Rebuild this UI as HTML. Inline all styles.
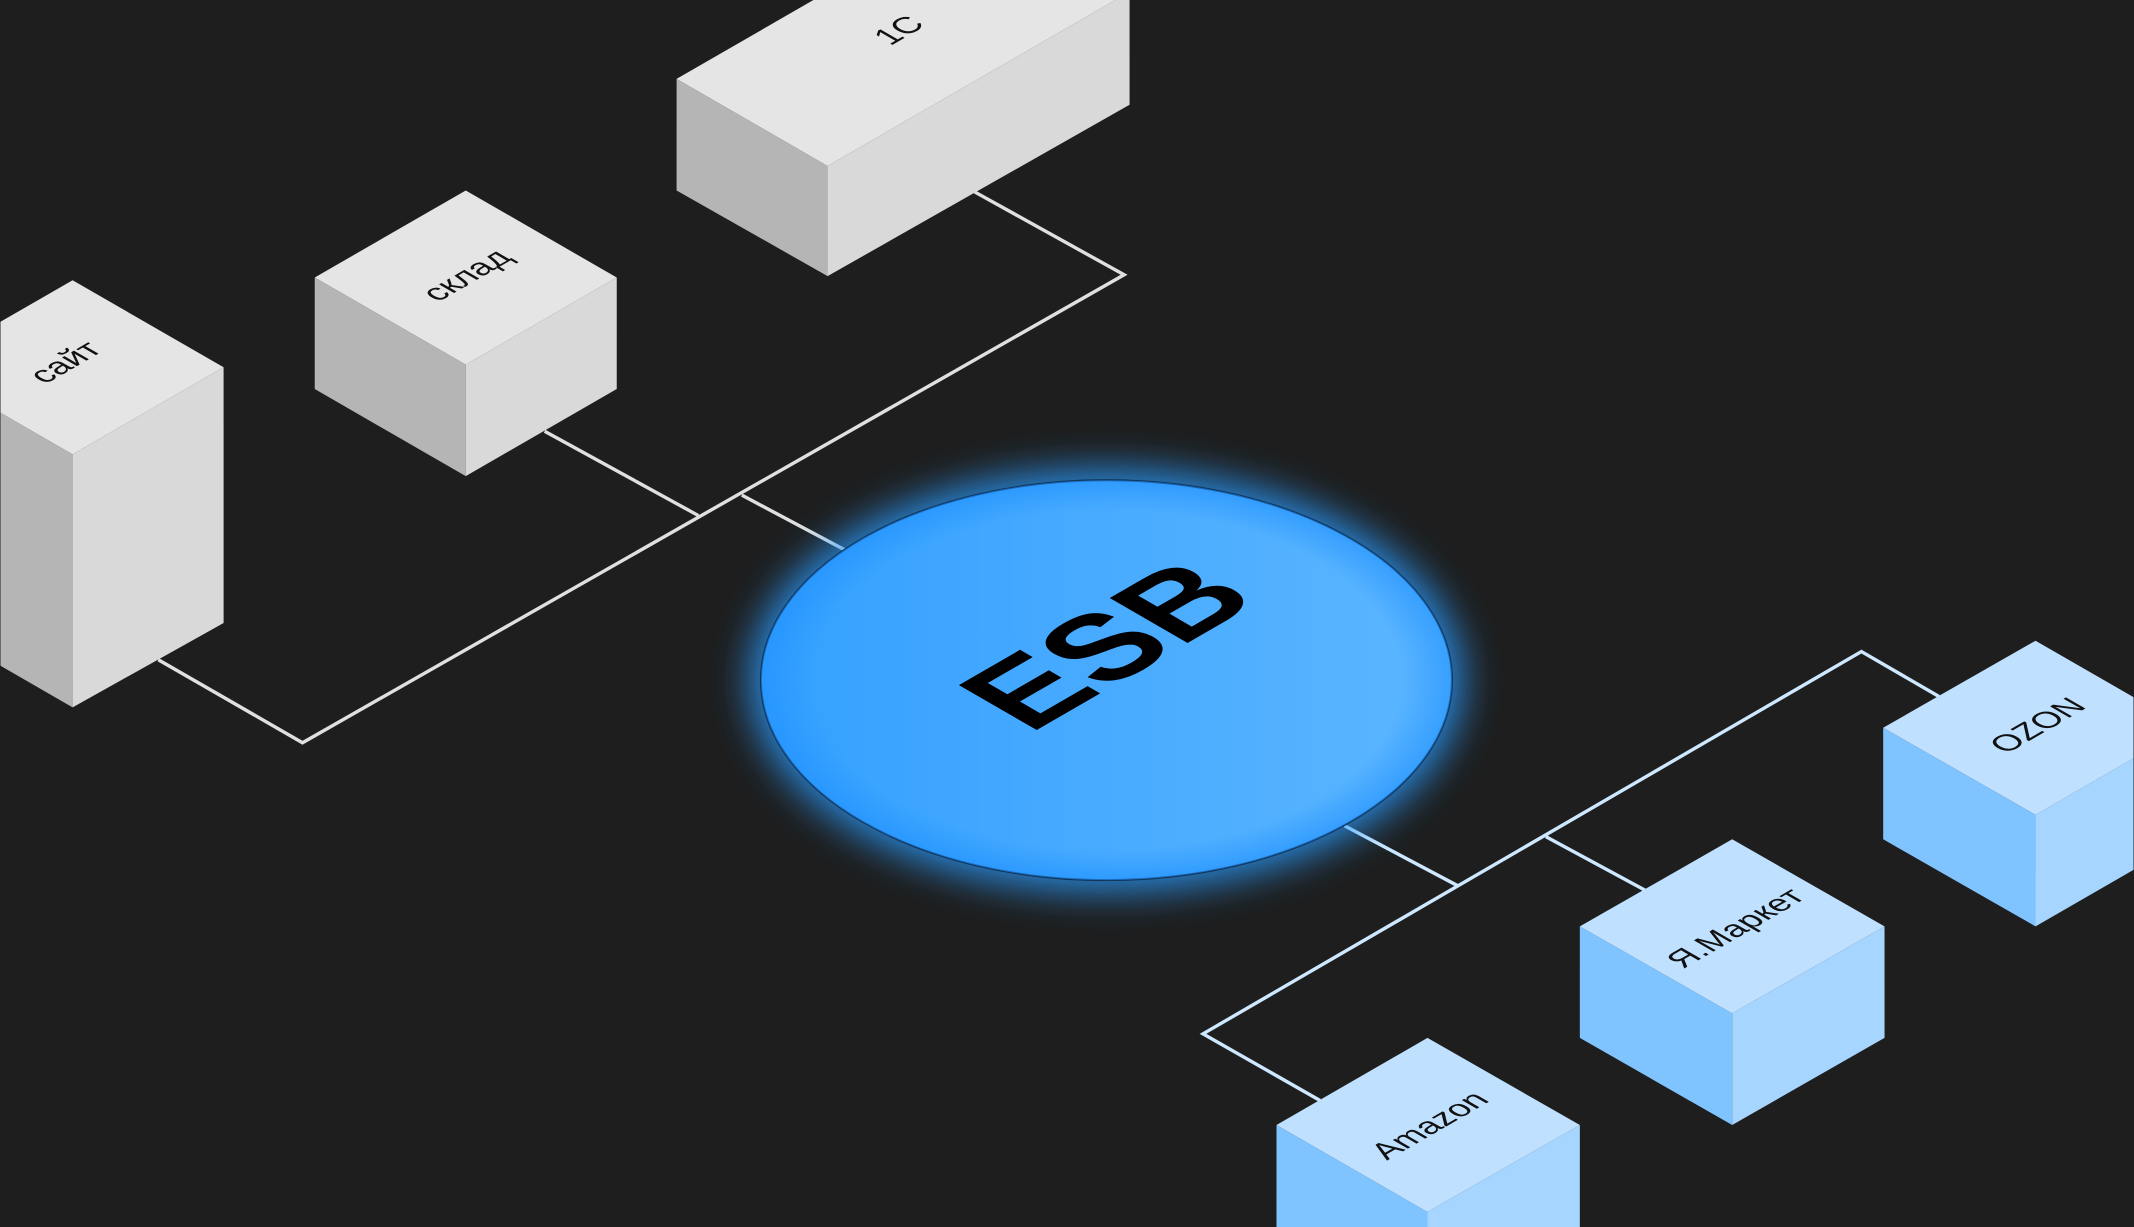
<!DOCTYPE html>
<html><head><meta charset="utf-8"><style>
html,body{margin:0;padding:0;background:#1e1e1e;width:2134px;height:1227px;overflow:hidden}
svg{display:block;overflow:hidden}
text{font-family:"Liberation Sans","DejaVu Sans",sans-serif}
</style></head><body>
<svg width="2134" height="1227" viewBox="0 0 1568 902" xmlns="http://www.w3.org/2000/svg">
<defs>
<linearGradient id="g" x1="0" y1="0" x2="1" y2="0">
<stop offset="0" stop-color="#34a0ff"/><stop offset="1" stop-color="#5cb6ff"/>
</linearGradient>
<radialGradient id="inner" cx="0.5" cy="0.5" r="0.5">
<stop offset="0.85" stop-color="#1e90ff" stop-opacity="0"/><stop offset="1" stop-color="#1e90ff" stop-opacity="0.6"/>
</radialGradient>
<filter id="glow" x="-30%" y="-30%" width="160%" height="160%"><feGaussianBlur stdDeviation="14"/></filter>
<clipPath id="c"><rect width="1568" height="902"/></clipPath>
</defs>
<g clip-path="url(#c)">
<rect width="1568" height="902" fill="#1e1e1e"/>
<g stroke="#e0e0e0" stroke-width="2.5" fill="none">
<polyline points="716,141 826,202 222,546 116,485"/>
<line x1="400" y1="317" x2="513" y2="379"/>
<line x1="545" y1="364" x2="622" y2="405"/>
</g>
<g stroke="#cde8ff" stroke-width="2.5" fill="none">
<polyline points="970,809 884,760 1368,479 1425,512"/>
<line x1="988" y1="607" x2="1071" y2="651"/>
<line x1="1136" y1="615" x2="1210" y2="655"/>
</g>
<polygon points="497,58 608,122 830,-6 719,-70" fill="#e5e5e5"/>
<polygon points="497,58 608,122 608,203 497,140" fill="#b5b5b5"/>
<polygon points="608,122 830,-6 830,77 608,203" fill="#d9d9d9"/>
<polygon points="231,204 342,268 453,204 342,140" fill="#e5e5e5"/>
<polygon points="231,204 342,268 342,350 231,286" fill="#b5b5b5"/>
<polygon points="342,268 453,204 453,286 342,350" fill="#d9d9d9"/>
<polygon points="-58,270 53,334 164,270 53,206" fill="#e5e5e5"/>
<polygon points="-58,270 53,334 53,520 -58,456" fill="#b5b5b5"/>
<polygon points="53,334 164,270 164,458 53,520" fill="#d9d9d9"/>
<polygon points="1384,535 1496,599 1607,535 1496,471" fill="#bfe1ff"/>
<polygon points="1384,535 1496,599 1496,681 1384,617" fill="#80c4ff"/>
<polygon points="1496,599 1607,535 1607,617 1496,681" fill="#a6d6ff"/>
<polygon points="1161,681 1273,745 1385,681 1273,617" fill="#bfe1ff"/>
<polygon points="1161,681 1273,745 1273,827 1161,763" fill="#80c4ff"/>
<polygon points="1273,745 1385,681 1385,763 1273,827" fill="#a6d6ff"/>
<polygon points="938,827 1049,891 1161,827 1049,763" fill="#bfe1ff"/>
<polygon points="938,827 1049,891 1049,960 938,960" fill="#80c4ff"/>
<polygon points="1049,891 1161,827 1161,960 1049,960" fill="#a6d6ff"/>
<ellipse cx="813" cy="500" rx="262" ry="155" fill="#2a9cff" opacity="0.85" filter="url(#glow)"/>
<ellipse cx="813" cy="500" rx="254" ry="147" fill="url(#g)" stroke="#12355a" stroke-width="1.5"/>
<ellipse cx="813" cy="500" rx="254" ry="147" fill="url(#inner)"/>
<g font-size="24" fill="#111" text-anchor="middle" dominant-baseline="central">
<text transform="matrix(0.866,-0.5,0.866,0.5,813,474)" font-size="96" font-weight="bold" fill="#000">ESB</text>
<text transform="matrix(0.866,-0.5,0.866,0.5,342,202)">склад</text>
<text transform="matrix(0.866,-0.5,0.866,0.5,47,266)">сайт</text>
<text transform="matrix(0.866,-0.5,0.866,0.5,660,22)">1C</text>
<text transform="matrix(0.866,-0.5,0.866,0.5,1497,533)">OZON</text>
<text transform="matrix(0.866,-0.5,0.866,0.5,1275,682)">Я.Маркет</text>
<text transform="matrix(0.866,-0.5,0.866,0.5,1050,827)">Amazon</text>
</g>
</g>
</svg>
</body></html>
